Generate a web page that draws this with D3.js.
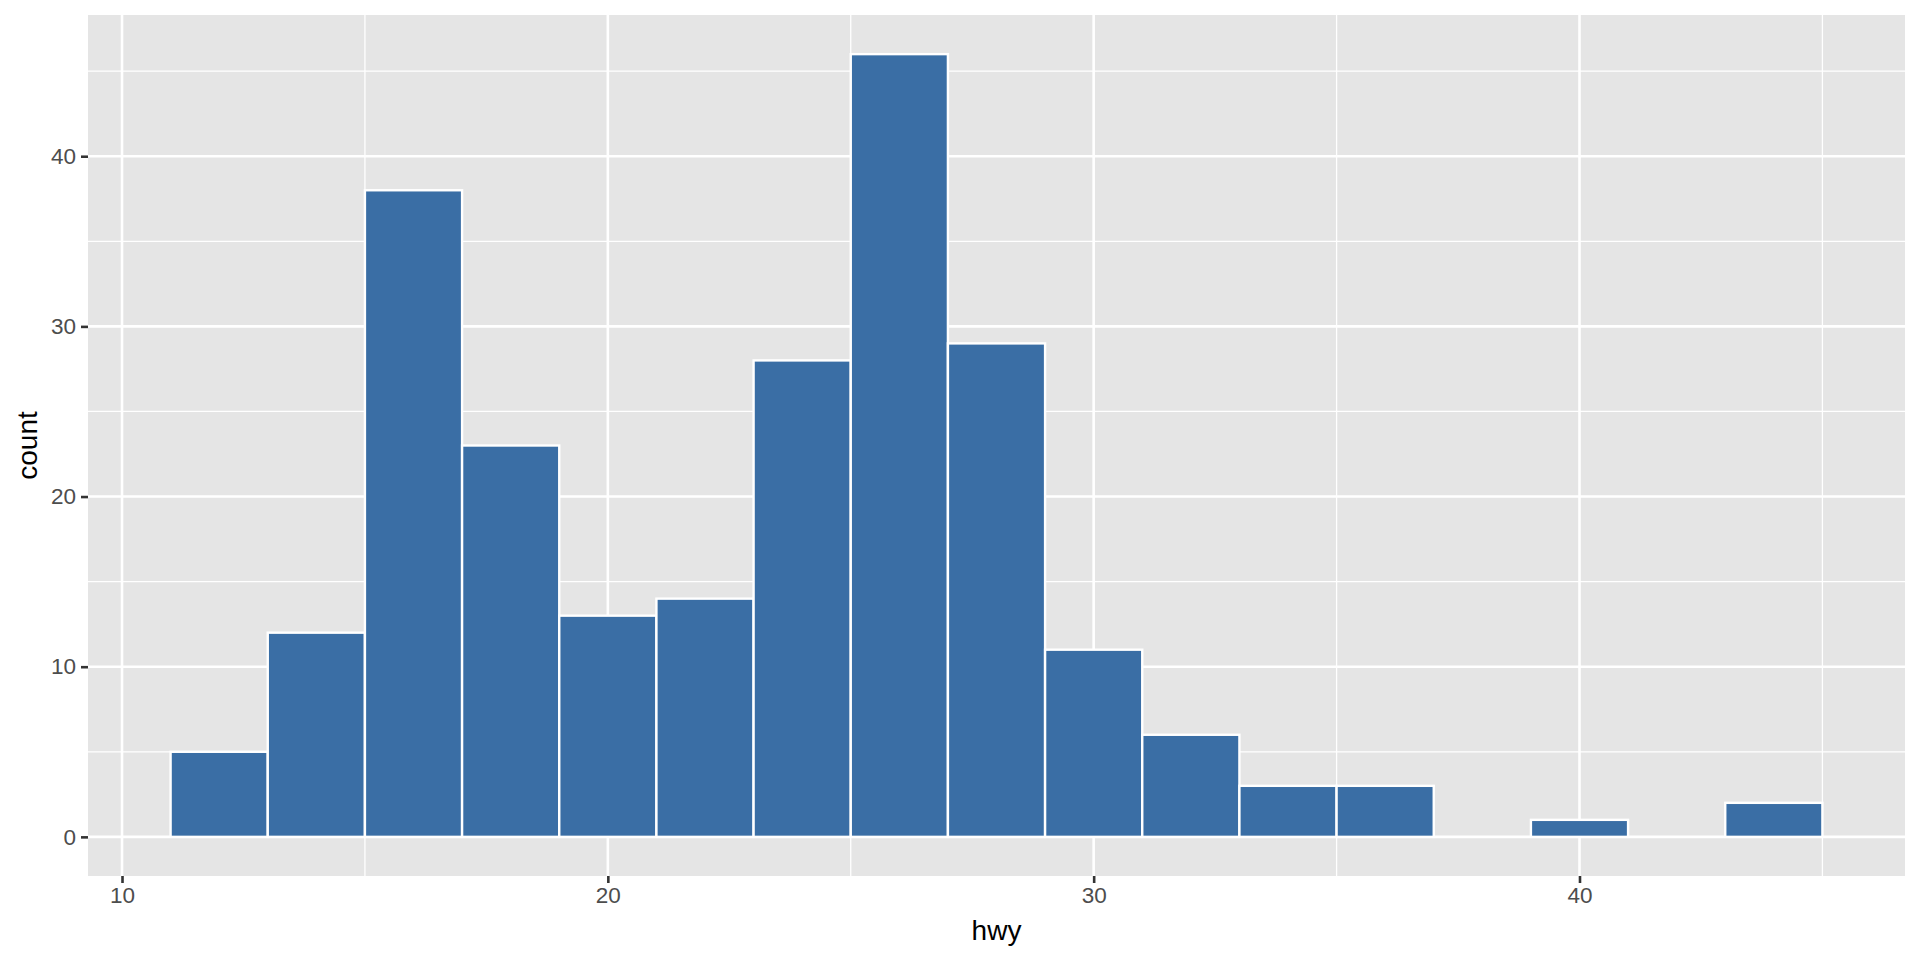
<!DOCTYPE html>
<html>
<head>
<meta charset="utf-8">
<script src="https://cdn.jsdelivr.net/npm/d3@7"></script>
<style>
  body { margin: 0; background: #fff; }
  text { font-family: "Liberation Sans", Arial, sans-serif; }
</style>
</head>
<body>
<script>
// histogram of hwy, binwidth 2
const binStart = [11, 13, 15, 17, 19, 21, 23, 25, 27, 29, 31, 33, 35, 37, 39, 41, 43];
const counts = [5, 12, 38, 23, 13, 14, 28, 46, 29, 11, 6, 3, 3, 0, 1, 0, 2];
const binWidth = 2;
const xTicks = [10, 20, 30, 40];
const xMinor = [15, 25, 35, 45];
const yTicks = [0, 10, 20, 30, 40];
const yMinor = [5, 15, 25, 35, 45];

const W = 1920, H = 960;
const panel = { left: 88, top: 15, right: 1905, bottom: 876 };

const svg = d3.select("body").append("svg")
    .attr("width", W)
    .attr("height", H);

// ggplot style 5% expansion
const xMin = d3.min(binStart), xMax = d3.max(binStart) + binWidth;
const xPad = (xMax - xMin) * 0.05;
const x = d3.scaleLinear()
    .domain([xMin - xPad, xMax + xPad])
    .range([panel.left, panel.right]);

const yMax = d3.max(counts);
const y = d3.scaleLinear()
    .domain([-yMax * 0.05, yMax * 1.05])
    .range([panel.bottom, panel.top]);

// panel background
svg.append("rect")
    .attr("x", panel.left)
    .attr("y", panel.top)
    .attr("width", panel.right - panel.left)
    .attr("height", panel.bottom - panel.top)
    .attr("fill", "#E5E5E5");

const grid = svg.append("g");

// minor grid lines
grid.selectAll(".xminor").data(xMinor).enter().append("line")
    .attr("x1", d => x(d)).attr("x2", d => x(d))
    .attr("y1", panel.top).attr("y2", panel.bottom)
    .attr("stroke", "#fff").attr("stroke-width", 1.3);
grid.selectAll(".yminor").data(yMinor).enter().append("line")
    .attr("y1", d => y(d)).attr("y2", d => y(d))
    .attr("x1", panel.left).attr("x2", panel.right)
    .attr("stroke", "#fff").attr("stroke-width", 1.3);

// major grid lines
grid.selectAll(".xmajor").data(xTicks).enter().append("line")
    .attr("x1", d => x(d)).attr("x2", d => x(d))
    .attr("y1", panel.top).attr("y2", panel.bottom)
    .attr("stroke", "#fff").attr("stroke-width", 2.6);
grid.selectAll(".ymajor").data(yTicks).enter().append("line")
    .attr("y1", d => y(d)).attr("y2", d => y(d))
    .attr("x1", panel.left).attr("x2", panel.right)
    .attr("stroke", "#fff").attr("stroke-width", 2.6);

// bars (empty bins draw nothing visible)
svg.append("g").selectAll(".bar")
    .data(binStart.map((s, i) => ({ start: s, count: counts[i] })).filter(d => d.count > 0))
    .enter().append("rect")
    .attr("class", "bar")
    .attr("x", d => x(d.start))
    .attr("width", d => x(d.start + binWidth) - x(d.start))
    .attr("y", d => y(d.count))
    .attr("height", d => y(0) - y(d.count))
    .attr("fill", "#3A6EA5")
    .attr("stroke", "#fff")
    .attr("stroke-width", 2.4);

// X axis
const xAxis = svg.append("g")
    .attr("transform", "translate(0," + panel.bottom + ")")
    .call(d3.axisBottom(x).tickValues(xTicks).tickSize(7).tickPadding(4));
xAxis.select(".domain").remove();
xAxis.selectAll(".tick line").attr("stroke", "#333").attr("stroke-width", 2.6);
xAxis.selectAll(".tick text").attr("fill", "#4D4D4D").style("font-size", "22.5px");

// Y axis
const yAxis = svg.append("g")
    .attr("transform", "translate(" + panel.left + ",0)")
    .call(d3.axisLeft(y).tickValues(yTicks).tickSize(7).tickPadding(5));
yAxis.select(".domain").remove();
yAxis.selectAll(".tick line").attr("stroke", "#333").attr("stroke-width", 2.6);
yAxis.selectAll(".tick text").attr("fill", "#4D4D4D").style("font-size", "22.5px");

// axis titles
svg.append("text")
    .attr("x", (panel.left + panel.right) / 2)
    .attr("y", 940)
    .attr("text-anchor", "middle")
    .style("font-size", "28px")
    .attr("fill", "#000")
    .text("hwy");

svg.append("text")
    .attr("transform", "translate(37," + ((panel.top + panel.bottom) / 2) + ") rotate(-90)")
    .attr("text-anchor", "middle")
    .style("font-size", "28px")
    .attr("fill", "#000")
    .text("count");
</script>
</body>
</html>
